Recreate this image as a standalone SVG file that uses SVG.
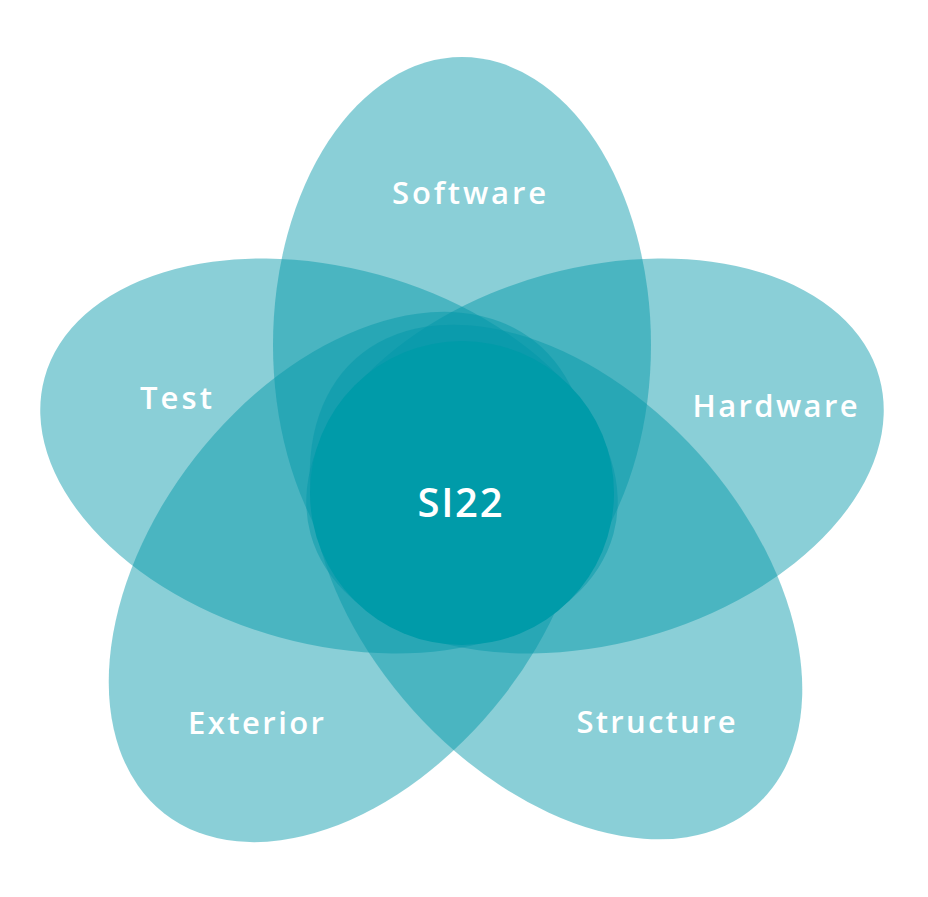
<svg xmlns="http://www.w3.org/2000/svg" width="928" height="897" viewBox="0 0 928 897">
<style>
.petal{fill:#0097a7;fill-opacity:0.46}
.lbl{fill:#ffffff;font-family:"Open Sans","Noto Sans","DejaVu Sans",sans-serif;font-size:31px;font-weight:600;text-anchor:middle}
.core{fill:#ffffff;font-family:"Open Sans","Noto Sans","DejaVu Sans",sans-serif;font-size:40px;font-weight:600;text-anchor:middle}
</style>
<rect width="928" height="897" fill="#ffffff"/>
<g id="software"><ellipse class="petal" cx="462" cy="345" rx="189" ry="288"/></g>
<g id="test"><ellipse class="petal" cx="0" cy="0" rx="295" ry="188" transform="translate(329,456) rotate(15.4)"/></g>
<g id="hardware"><ellipse class="petal" cx="0" cy="0" rx="295" ry="188" transform="translate(595,456) rotate(-15.4)"/></g>
<g id="exterior"><ellipse class="petal" cx="0" cy="0" rx="300" ry="195" transform="translate(349,577) rotate(-52)"/></g>
<g id="structure"><ellipse class="petal" cx="0" cy="0" rx="300" ry="192" transform="translate(556,582) rotate(48)"/></g>
<g id="si22"><circle cx="462" cy="493" r="152" fill="#009ba9"/></g>
<g id="labels">
<text class="lbl" x="469" y="204" textLength="154" lengthAdjust="spacing">Software</text>
<text class="lbl" x="176" y="409" textLength="72" lengthAdjust="spacing">Test</text>
<text class="lbl" x="775" y="417" textLength="165" lengthAdjust="spacing">Hardware</text>
<text class="lbl" x="256" y="734" textLength="136" lengthAdjust="spacing">Exterior</text>
<text class="lbl" x="656" y="733" textLength="159" lengthAdjust="spacing">Structure</text>
<text class="core" x="460" y="517" textLength="85" lengthAdjust="spacing">SI22</text>
</g>
</svg>
